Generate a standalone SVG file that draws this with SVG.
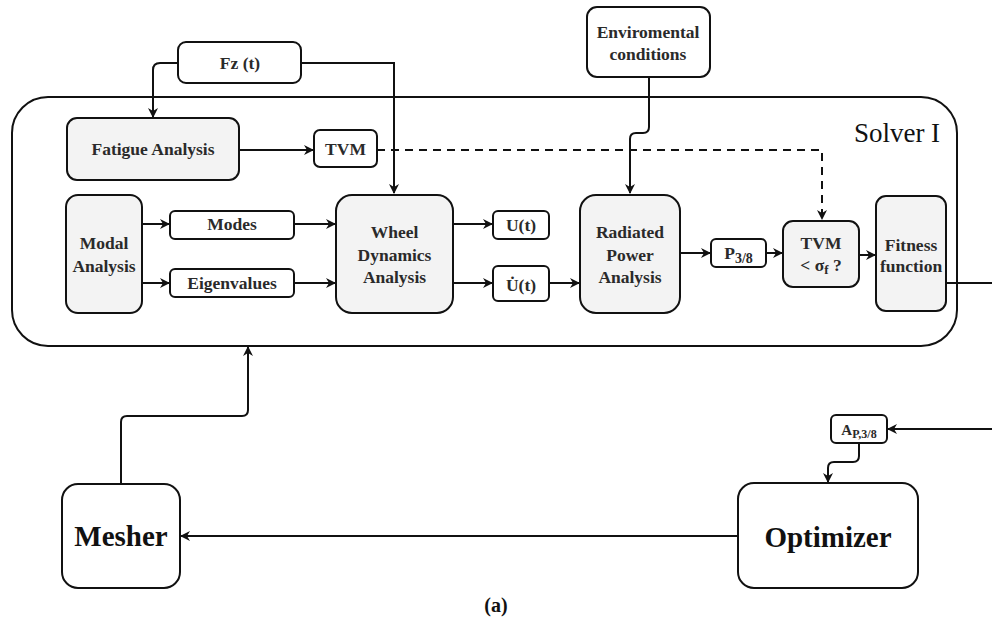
<svg xmlns="http://www.w3.org/2000/svg" width="992" height="628" viewBox="0 0 992 628">
  <style>
    text { font-family: "Liberation Serif", "Times New Roman", Tinos, "DejaVu Serif", "Noto Serif", Times, serif; font-weight: bold; fill: #2a2a2a; text-anchor: middle; }
    .t { font-size: 17.5px; }
    .big { font-size: 29px; fill: #111111; }
    .box { fill: #ffffff; stroke: #111111; stroke-width: 2; }
    .proc { fill: #f3f3f3; stroke: #111111; stroke-width: 2; }
    .c { fill: none; stroke: #111111; stroke-width: 2; }
    .arr { marker-end: url(#head); }
    .dash { stroke-dasharray: 8 6; }
  </style>
  <defs>
    <marker id="head" viewBox="0 0 10 10" refX="9" refY="5" markerWidth="10" markerHeight="10" markerUnits="userSpaceOnUse" orient="auto">
      <path d="M0,0 L10,5 L0,10 L3,5 z" fill="#111111"/>
    </marker>
  </defs>

  <rect width="992" height="628" fill="#ffffff"/>

  <!-- Solver container -->
  <g id="solver">
    <rect class="box" x="12" y="97" width="945" height="249" rx="36"/>
    <text x="897" y="142" style="font-size:27px;font-weight:normal;fill:#111111">Solver I</text>
  </g>

  <!-- Connectors -->
  <g id="connectors">
    <path class="c arr" d="M178,63 H160 Q153,63 153,70 V117"/>
    <path class="c arr" d="M301,63 H394 V193"/>
    <path class="c arr" d="M239,150 H313"/>
    <path class="c arr dash" d="M377,150 H822 V219"/>
    <path class="c arr" d="M649,77 V127 Q649,133 643,133 H636 Q630,133 630,139 V193"/>
    <path class="c arr" d="M142,224 H169"/>
    <path class="c arr" d="M142,283 H169"/>
    <path class="c arr" d="M294,224 H335"/>
    <path class="c arr" d="M294,283 H335"/>
    <path class="c arr" d="M453,224 H492"/>
    <path class="c arr" d="M453,283 H492"/>
    <path class="c arr" d="M549,283 H579"/>
    <path class="c arr" d="M680,253 H710"/>
    <path class="c arr" d="M766,253 H782"/>
    <path class="c arr" d="M859,255 H875"/>
    <path class="c" d="M946,283 H992"/>
    <path class="c arr" d="M992,429 H888"/>
    <path class="c arr" d="M859,443 V456 Q859,462 853,462 H834 Q828,462 828,468 V482"/>
    <path class="c arr" d="M738,536 H181"/>
    <path class="c arr" d="M121,484 V422 Q121,416 127,416 H242 Q248,416 248,410 V347"/>
  </g>

  <g id="fz">
    <rect class="box" x="178" y="42" width="123" height="41" rx="8"/>
    <text class="t" x="240" y="69">Fz (t)</text>
  </g>

  <g id="env">
    <rect class="box" x="587" y="7" width="123" height="70" rx="10"/>
    <text class="t" x="648" y="38">Enviromental</text>
    <text class="t" x="648" y="60">conditions</text>
  </g>

  <g id="fatigue">
    <rect class="proc" x="67" y="118" width="172" height="62" rx="10"/>
    <text class="t" x="153" y="155">Fatigue Analysis</text>
  </g>

  <g id="tvm">
    <rect class="box" x="314" y="130" width="63" height="37" rx="6"/>
    <text class="t" x="345.5" y="155">TVM</text>
  </g>

  <g id="modal">
    <rect class="proc" x="66" y="195" width="76" height="118" rx="12"/>
    <text class="t" x="104" y="249">Modal</text>
    <text class="t" x="104" y="272">Analysis</text>
  </g>

  <g id="modes">
    <rect class="box" x="170" y="211" width="124" height="28" rx="5"/>
    <text class="t" x="232" y="230">Modes</text>
  </g>

  <g id="eigen">
    <rect class="box" x="170" y="269" width="124" height="28" rx="5"/>
    <text class="t" x="232" y="289">Eigenvalues</text>
  </g>

  <g id="wheel">
    <rect class="proc" x="336" y="195" width="117" height="118" rx="16"/>
    <text class="t" x="394.5" y="238">Wheel</text>
    <text class="t" x="394.5" y="261">Dynamics</text>
    <text class="t" x="394.5" y="283">Analysis</text>
  </g>

  <g id="u">
    <rect class="box" x="493" y="211" width="56" height="28" rx="5"/>
    <text class="t" x="521" y="231">U(t)</text>
  </g>

  <g id="udot">
    <rect class="box" x="493" y="266" width="56" height="35" rx="5"/>
    <text class="t" x="521" y="291">U̇(t)</text>
  </g>

  <g id="radiated">
    <rect class="proc" x="580" y="195" width="100" height="118" rx="16"/>
    <text class="t" x="630" y="238">Radiated</text>
    <text class="t" x="630" y="261">Power</text>
    <text class="t" x="630" y="283">Analysis</text>
  </g>

  <g id="p38">
    <rect class="box" x="711" y="239" width="55" height="28" rx="5"/>
    <text class="t" x="738.5" y="259">P<tspan dy="4" style="font-size:14px">3/8</tspan></text>
  </g>

  <g id="check">
    <rect class="proc" x="783" y="221" width="76" height="66" rx="10"/>
    <text class="t" x="821" y="249">TVM</text>
    <text class="t" x="821" y="271">&lt; σ<tspan dy="3" style="font-size:13px">f</tspan><tspan dy="-3"> ?</tspan></text>
  </g>

  <g id="fitness">
    <rect class="proc" x="876" y="196" width="70" height="115" rx="10"/>
    <text class="t" x="911" y="251">Fitness</text>
    <text class="t" x="911" y="272">function</text>
  </g>

  <g id="ap">
    <rect class="box" x="831" y="415" width="56" height="28" rx="5"/>
    <text class="t" x="859" y="435" style="font-size:15px">A<tspan dy="3" style="font-size:12px">P,3/8</tspan></text>
  </g>

  <g id="optimizer">
    <rect class="box" x="738" y="483" width="180" height="105" rx="16"/>
    <text class="big" x="828" y="547">Optimizer</text>
  </g>

  <g id="mesher">
    <rect class="box" x="62" y="484" width="118" height="104" rx="16"/>
    <text class="big" x="121" y="546">Mesher</text>
  </g>

  <text x="496" y="612" style="font-size:20px;fill:#111111">(a)</text>
</svg>
